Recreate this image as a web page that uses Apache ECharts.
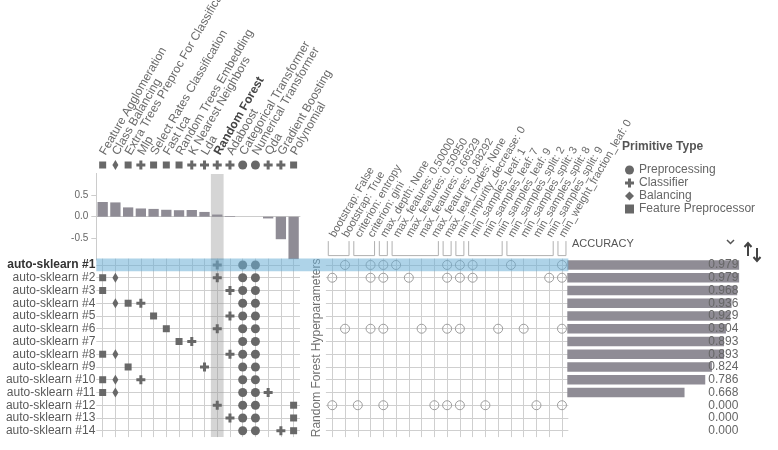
<!DOCTYPE html>
<html><head><meta charset="utf-8">
<script src="https://cdn.jsdelivr.net/npm/echarts@6/dist/echarts.min.js"></script>
<style>html,body{margin:0;padding:0;background:#fff}#c{width:778px;height:450px}</style>
</head><body><div id="c"></div>
<script>
// ---------------- data ----------------
const PRIMITIVES = ['Feature Agglomeration','Class Balancing','Extra Trees Preproc For Classification','Mlp','Select Rates Classification','Fast Ica','Random Trees Embedding','K Nearest Neighbors','Lda','Random Forest','Adaboost','Categorical Transformer','Numerical Transformer','Qda','Gradient Boosting','Polynomial'];
const PRIMITIVE_TYPES = ['Feature Preprocessor','Balancing','Feature Preprocessor','Classifier','Feature Preprocessor','Feature Preprocessor','Feature Preprocessor','Classifier','Classifier','Classifier','Classifier','Preprocessing','Preprocessing','Classifier','Classifier','Feature Preprocessor'];
const IMPORTANCE = [0.34, 0.33, 0.215, 0.19, 0.18, 0.16, 0.15, 0.155, 0.11, 0.05, 0.015, 0.0, 0.0, -0.04, -0.52, -0.98];
const IMPORTANCE_TICKS = [-0.5, 0.0, 0.5];
const PIPELINES = ['auto-sklearn #1','auto-sklearn #2','auto-sklearn #3','auto-sklearn #4','auto-sklearn #5','auto-sklearn #6','auto-sklearn #7','auto-sklearn #8','auto-sklearn #9','auto-sklearn #10','auto-sklearn #11','auto-sklearn #12','auto-sklearn #13','auto-sklearn #14'];
const PIPELINE_PRIMITIVES = [[9,11,12],[0,1,9,11,12],[0,10,11,12],[1,2,3,11,12],[4,10,11,12],[5,9,11,12],[6,7,11,12],[0,1,10,11,12],[2,8,11,12],[0,1,3,11,12],[0,1,11,12,13],[9,11,12,15],[10,11,12,15],[11,12,14,15]];
const ACCURACY = [0.979,0.979,0.968,0.936,0.929,0.904,0.893,0.893,0.824,0.786,0.668,0.000,0.000,0.000];
const HYPERPARAMS = ['bootstrap: False','bootstrap: True','criterion: entropy','criterion: gini','max_depth: None','max_features: 0.50000','max_features: 0.50950','max_features: 0.66529','max_features: 0.88292','max_leaf_nodes: None','min_impurity_decrease: 0','min_samples_leaf: 1','min_samples_leaf: 7','min_samples_leaf: 9','min_samples_split: 2','min_samples_split: 3','min_samples_split: 8','min_samples_split: 9','min_weight_fraction_leaf: 0'];
const HYPER_GROUP_SIZES = [2,2,1,4,1,1,3,4,1];
const HYPER_ROWS = [0,1,5,11];
const HYPER_VALUES = [[1,3,4,5,9,10,11,14,18],[0,3,4,6,9,10,11,17,18],[1,3,4,7,9,10,13,15,18],[0,2,4,8,9,10,12,16,18]];
const TYPE_ORDER = ['Preprocessing','Classifier','Balancing','Feature Preprocessor'];
const SELECTED_PRIMITIVE = 9;
const SELECTED_PIPELINE = 0;

// ---------------- layout / style ----------------
const FONT = 'Liberation Sans, Arial, sans-serif';
const COLW = 12.73, ROWH = 12.75, HCOLW = 12.76;
const GA = {left:96.3, top:173.4, width:16*COLW, height:86.6};
const GS = {left:96.3, top:159, width:16*COLW, height:12};
const GB = {left:96.3, top:258.6, width:16*COLW, height:14*ROWH};
const GC = {left:325.9, top:258.6, width:19*HCOLW, height:14*ROWH};
const GD = {left:567.3, top:258.6, width:175.5, height:14*ROWH};
const PLUS = 'path://M3,0h3v3h3v3h-3v3h-3v-3h-3v-3h3z';
const TYPE_SYMBOL = {'Preprocessing':'circle','Classifier':PLUS,'Balancing':'diamond','Feature Preprocessor':'rect'};
const TYPE_SIZE = {'Preprocessing':9,'Classifier':9,'Balancing':[6,10],'Feature Preprocessor':7};
const SYM_COLOR = '#686868';
const LINE_COLOR = '#cfcfcf';
const BAR_COLOR = '#8f8c95';
const LABEL_ROT = -60;

const chart = echarts.init(document.getElementById('c'), null, {renderer:'canvas'});

const series = [];
series.push({type:'bar', xAxisIndex:0, yAxisIndex:0, data:IMPORTANCE, barWidth:'81%', itemStyle:{color:BAR_COLOR}, z:3, silent:true});
[[0,0],[2,2]].forEach(([xi,yi]) => {
  series.push({type:'custom', xAxisIndex:xi, yAxisIndex:yi, data:[[SELECTED_PRIMITIVE,0]], z:1, clip:false, silent:true,
    renderItem:(params, api) => {
      const cx = api.coord([api.value(0), 0])[0];
      const w = api.size([1,0])[0];
      const cs = params.coordSys;
      const y0 = xi === 0 ? cs.y + 0.6 : cs.y;
      return {type:'rect', shape:{x:cx-w/2, y:y0, width:w, height:cs.y + cs.height - y0}, style:{fill:'rgba(150,150,150,0.4)'}};
    }});
});
TYPE_ORDER.forEach(t => {
  const rowData = [], matData = [];
  PRIMITIVE_TYPES.forEach((pt, c) => { if (pt === t) rowData.push([c, 0]); });
  PIPELINE_PRIMITIVES.forEach((ps, r) => ps.forEach(c => { if (PRIMITIVE_TYPES[c] === t) matData.push([c, r]); }));
  series.push({type:'scatter', name:t, xAxisIndex:1, yAxisIndex:1, data:rowData, symbol:TYPE_SYMBOL[t], symbolSize:TYPE_SIZE[t], itemStyle:{color:SYM_COLOR, opacity:1}, z:4, silent:true});
  series.push({type:'scatter', name:t, xAxisIndex:2, yAxisIndex:2, data:matData, symbol:TYPE_SYMBOL[t], symbolSize:TYPE_SIZE[t], itemStyle:{color:SYM_COLOR, opacity:1}, z:4, silent:true});
});
const hyperData = [];
HYPER_ROWS.forEach((r, k) => HYPER_VALUES[k].forEach(c => hyperData.push([c, r])));
series.push({type:'scatter', xAxisIndex:3, yAxisIndex:3, data:hyperData, symbol:'circle', symbolSize:9,
  itemStyle:{color:'rgba(0,0,0,0)', borderColor:'#9d9d9d', borderWidth:1, opacity:1}, z:4, silent:true});
const groups = []; let s0 = 0;
HYPER_GROUP_SIZES.forEach(n => { groups.push([s0, 0, s0+n-1]); s0 += n; });
series.push({type:'custom', xAxisIndex:3, yAxisIndex:3, data:groups, encode:{x:[0,2], y:1}, clip:false, silent:true, z:4,
  renderItem:(params, api) => {
    const x0 = api.coord([api.value(0), 0])[0] - 4;
    const x1 = api.coord([api.value(2), 0])[0] + 4;
    const yb = params.coordSys.y - 3, yt = params.coordSys.y - 17.5;
    return {type:'polyline', shape:{points:[[x0,yt],[x0,yb],[x1,yb],[x1,yt]]}, style:{stroke:'#b0b0b0', lineWidth:1, fill:null}};
  }});
series.push({type:'custom', xAxisIndex:2, yAxisIndex:2, data:[[0, SELECTED_PIPELINE]], clip:false, silent:true, z:10,
  renderItem:(params, api) => {
    const cy = api.coord([0, api.value(1)])[1];
    const h = api.size([0,1])[1];
    const x0 = params.coordSys.x;
    return {type:'rect', shape:{x:x0, y:cy-h/2, width:(GC.left+GC.width)-x0, height:h}, style:{fill:'rgba(107,174,214,0.55)'}};
  }});
series.push({type:'bar', xAxisIndex:4, yAxisIndex:4, data:ACCURACY, barWidth:9.3, itemStyle:{color:BAR_COLOR}, z:3, silent:true});

const tickLines = (len) => ({show:true, inside:true, alignWithLabel:true, length:len, interval:0, lineStyle:{color:LINE_COLOR, width:1}});
const mkGrid = (g) => ({left:g.left, top:g.top, width:g.width, height:g.height, containLabel:false, outerBoundsMode:'none'});

const option = {
  animation:false,
  textStyle:{fontFamily:FONT},
  grid:[mkGrid(GA), mkGrid(GS), mkGrid(GB), mkGrid(GC), mkGrid(GD)],
  xAxis:[
    {type:'category', gridIndex:0, data:PRIMITIVES, axisLine:{show:true, onZero:true, lineStyle:{color:'#cccccc'}}, axisTick:{show:false}, axisLabel:{show:false}, splitLine:{show:false}},
    {type:'category', gridIndex:1, data:PRIMITIVES, position:'top', axisLine:{show:false}, axisTick:{show:false}, splitLine:{show:false},
      axisLabel:{show:true, interval:0, rotate:LABEL_ROT, margin:5, fontSize:12, color:'#6a6a6a', verticalAlign:'middle', fontFamily:FONT,
        formatter:(v) => v === PRIMITIVES[SELECTED_PRIMITIVE] ? '{b|'+v+'}' : v,
        rich:{b:{fontWeight:'bold', color:'#444', fontSize:12, fontFamily:FONT}}}},
    {type:'category', gridIndex:2, data:PRIMITIVES, axisLine:{show:false}, axisTick:tickLines(GB.height), axisLabel:{show:false, interval:0}, splitLine:{show:false}},
    {type:'category', gridIndex:3, data:HYPERPARAMS, position:'top', axisLine:{show:false}, axisTick:tickLines(GC.height), splitLine:{show:false},
      axisLabel:{show:true, interval:0, rotate:LABEL_ROT, margin:22, fontSize:11, color:'#6a6a6a', verticalAlign:'middle', fontFamily:FONT}},
    {type:'value', gridIndex:4, min:0, max:1, show:false}
  ],
  yAxis:[
    {type:'value', gridIndex:0, min:-1, max:1, interval:0.5, axisLine:{show:true, lineStyle:{color:'#cccccc'}}, axisTick:{show:true, length:5, lineStyle:{color:'#cccccc'}},
      splitLine:{show:false}, axisLabel:{fontSize:10, color:'#666', showMinLabel:false, showMaxLabel:false,
        formatter:(v) => IMPORTANCE_TICKS.some(t => Math.abs(t - v) < 1e-9) ? v.toFixed(1) : ''}},
    {type:'category', gridIndex:1, data:['s'], show:false},
    {type:'category', gridIndex:2, data:PIPELINES, inverse:true, axisLine:{show:false}, axisTick:tickLines(GB.width), splitLine:{show:false},
      axisLabel:{interval:0, margin:1, fontSize:12, color:'#5a5a5a', fontFamily:FONT,
        formatter:(v) => v === PIPELINES[SELECTED_PIPELINE] ? '{b|'+v+'}' : v,
        rich:{b:{fontWeight:'bold', color:'#333', fontSize:12, fontFamily:FONT}}}},
    {type:'category', gridIndex:3, data:PIPELINES, inverse:true, axisLine:{show:false}, axisTick:tickLines(GC.width), splitLine:{show:false}, axisLabel:{show:false, interval:0},
      name:'Random Forest Hyperparameters', nameLocation:'middle', nameRotate:90, nameGap:3, nameTextStyle:{fontSize:12, color:'#707070', fontFamily:FONT}},
    {type:'category', gridIndex:4, data:PIPELINES, inverse:true, show:false},
    {type:'category', gridIndex:4, data:ACCURACY.map(v => v.toFixed(3)), inverse:true, position:'right', z:5,
      axisLine:{show:false}, axisTick:{show:false}, splitLine:{show:false},
      axisLabel:{interval:0, align:'right', margin:-4.5, fontSize:12, color:'#666', fontFamily:FONT}}
  ],
  title:{text:'Primitive Type', left:622, top:141, padding:0, textStyle:{fontSize:12, fontWeight:'bold', color:'#555', fontFamily:FONT}},
  legend:{orient:'vertical', left:625, top:164, itemWidth:9, itemHeight:9, itemGap:1, padding:0, selectedMode:false,
    textStyle:{fontSize:12, color:'#666', fontFamily:FONT},
    data:TYPE_ORDER.map(t => ({name:t, icon:TYPE_SYMBOL[t], itemStyle:{color:SYM_COLOR}}))},
  graphic:[
    {type:'text', left:572, top:238, style:{text:'ACCURACY', font:'11px '+FONT, fill:'#555'}},
    {type:'polyline', shape:{points:[[727,240],[730.5,243.5],[734,240]]}, style:{stroke:'#555', lineWidth:1.5, fill:null}},
    {type:'polyline', shape:{points:[[748,256],[748,243]]}, style:{stroke:'#444', lineWidth:2, fill:null}},
    {type:'polyline', shape:{points:[[744.5,247],[748,243],[751.5,247]]}, style:{stroke:'#444', lineWidth:2, fill:null}},
    {type:'polyline', shape:{points:[[757,248],[757,261]]}, style:{stroke:'#444', lineWidth:2, fill:null}},
    {type:'polyline', shape:{points:[[753.5,257],[757,261],[760.5,257]]}, style:{stroke:'#444', lineWidth:2, fill:null}}
  ],
  series:series
};
chart.setOption(option);
</script></body></html>
